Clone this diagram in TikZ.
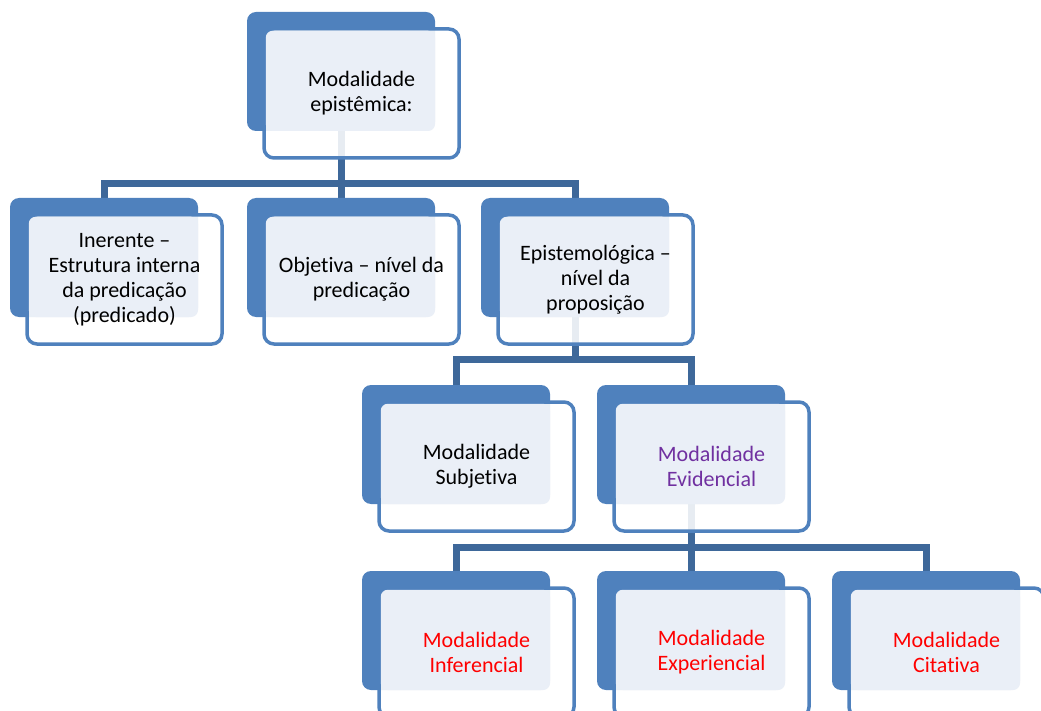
\documentclass[tikz,border=0pt]{standalone}
\usepackage{fontspec}
\setmainfont[Ligatures=NoCommon]{Carlito}
\usepackage{tikz}
\usetikzlibrary{positioning}
\definecolor{boxblue}{RGB}{79,129,189}
\definecolor{linkblue}{RGB}{62,104,154}
\definecolor{paleblue}{RGB}{234,239,247}
\definecolor{evidpurple}{RGB}{112,48,160}
\pgfdeclarelayer{background}
\pgfsetlayers{background,main}

% one SmartArt box: name, x, y (top left of the dark card), text colour, text
\newcommand{\modbox}[5]{%
  \node[backbox] (#1b) at (#2+94,#3+59.5) {};
  \path[frontbox] (#2+17,#3+17) rectangle ++(195,129);
  \path[litebox] (#2+18.75,#3+18.75) rectangle (#2+188,#3+119);
  \node[boxtext, text=#4] (#1) at (#2+114.5,#3+81.5) {#5};
}

\begin{document}
\begin{tikzpicture}[x=1pt, y=-1pt,
    backbox/.style={fill=boxblue, rounded corners=9pt, minimum width=188pt, minimum height=119pt, inner sep=0pt},
    frontbox/.style={draw=boxblue, line width=3.5pt, fill=white, fill opacity=0.88, rounded corners=10pt},
    litebox/.style={fill=paleblue, rounded corners=7pt},
    boxtext/.style={align=center, font=\fontsize{22}{25}\selectfont},
    link/.style={draw=linkblue, line width=7pt}]
	\useasboundingbox (0,0) rectangle (1041,711);
	% top level
	\modbox{epist}{247}{12}{black}{Modalidade\\epistêmica:}
	% second level
	\modbox{iner}{10}{198}{black}{Inerente –\\Estrutura interna\\da predicação\\(predicado)}
	\modbox{objet}{247}{198}{black}{Objetiva – nível da\\predicação}
	\modbox{prop}{481}{198}{black}{Epistemológica –\\nível da\\proposição}
	% third level
	\modbox{subj}{362}{385}{black}{Modalidade\\Subjetiva}
	\modbox{evid}{597}{385}{evidpurple}{Modalidade\\Evidencial}
	% fourth level
	\modbox{infer}{362}{571}{red}{Modalidade\\Inferencial}
	\modbox{exper}{597}{571}{red}{Modalidade\\Experiencial}
	\modbox{citat}{832}{571}{red}{Modalidade\\Citativa}
	% connectors
	\begin{pgfonlayer}{background}
		\draw[link] (epistb.south) -- ++(0,52) -| (inerb.north);
		\draw[link] (epistb.south) -- ++(0,52) -| (propb.north);
		\draw[link] (epistb.south) -- (objetb.north);
		\draw[link] (propb.south) -- ++(0,42) -| (subjb.north);
		\draw[link] (propb.south) -- ++(0,42) -| (evidb.north);
		\draw[link] (evidb.south) -- ++(0,43) -| (inferb.north);
		\draw[link] (evidb.south) -- ++(0,43) -| (citatb.north);
		\draw[link] (evidb.south) -- (experb.north);
	\end{pgfonlayer}
\end{tikzpicture}
\end{document}
